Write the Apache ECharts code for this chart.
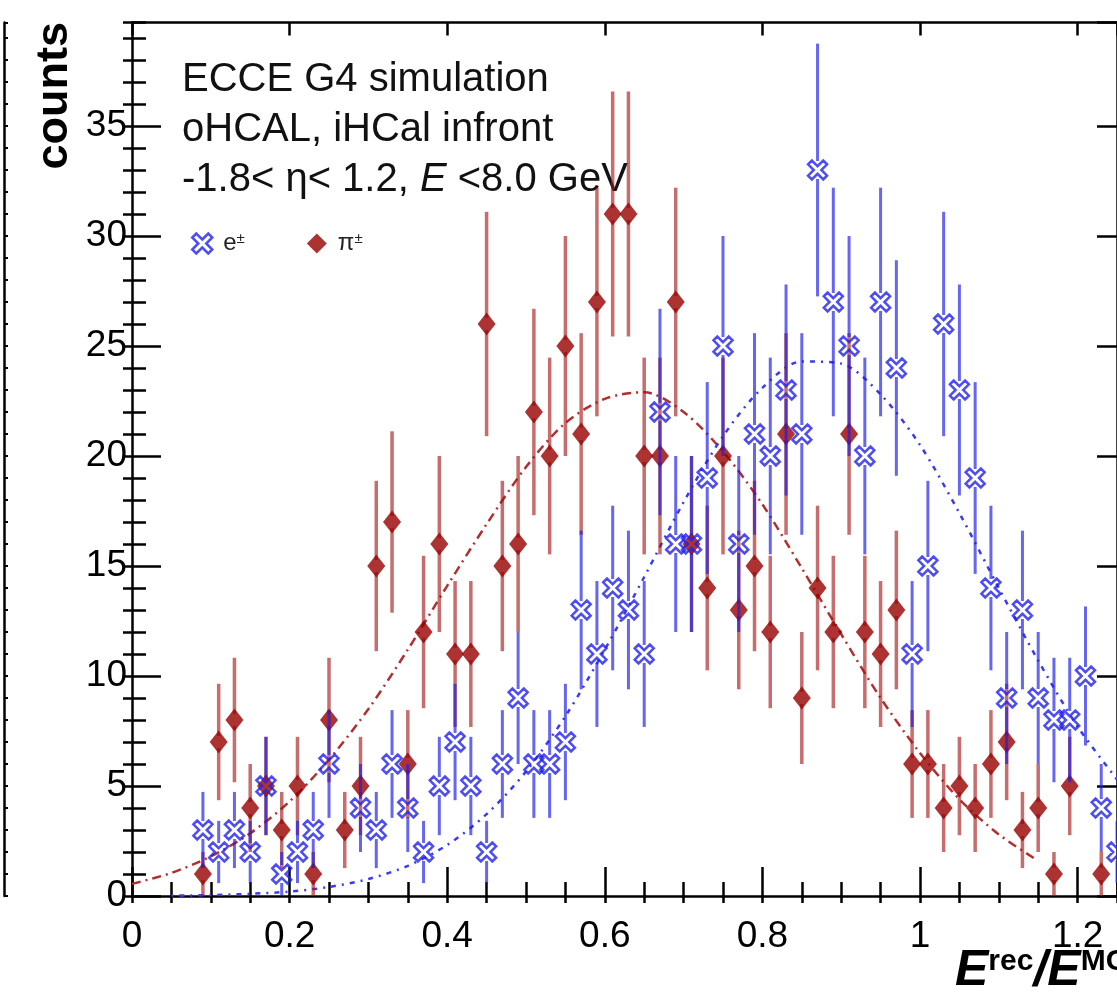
<!DOCTYPE html>
<html><head><meta charset="utf-8">
<script src="https://cdn.jsdelivr.net/npm/echarts/dist/echarts.min.js"></script>
<style>html,body{margin:0;padding:0;background:#fff}#c{width:1117px;height:1000px}</style>
</head><body><div id="c"></div>
<script>
// ---- data ----
const binsE   = [0.09,0.11,0.13,0.15,0.17,0.19,0.21,0.23,0.25,0.29,0.31,0.33,0.35,0.37,0.39,0.41,0.43,0.45,0.47,0.49,0.51,0.53,0.55,0.57,0.59,0.61,0.63,0.65,0.67,0.69,0.71,0.73,0.75,0.77,0.79,0.81,0.83,0.85,0.87,0.89,0.91,0.93,0.95,0.97,0.99,1.01,1.03,1.05,1.07,1.09,1.11,1.13,1.15,1.17,1.19,1.21,1.23,1.25];
const countsE = [3,2,3,2,5,1,2,3,6,4,3,6,4,2,5,7,5,2,6,9,6,6,7,13,11,14,13,11,22,16,16,19,25,16,21,20,23,21,33,27,25,20,27,24,11,15,26,23,19,14,9,13,9,8,8,10,4,2];
const binsPi   = [0.09,0.11,0.13,0.15,0.17,0.19,0.21,0.23,0.25,0.27,0.29,0.31,0.33,0.35,0.37,0.39,0.41,0.43,0.45,0.47,0.49,0.51,0.53,0.55,0.57,0.59,0.61,0.63,0.65,0.67,0.69,0.71,0.73,0.75,0.77,0.79,0.81,0.83,0.85,0.87,0.89,0.91,0.93,0.95,0.97,0.99,1.01,1.03,1.05,1.07,1.09,1.11,1.13,1.15,1.17,1.19,1.23];
const countsPi = [1,7,8,4,5,3,5,1,8,3,5,15,17,6,12,16,11,11,26,15,16,22,20,25,21,27,31,31,20,20,27,16,14,20,13,15,12,21,9,14,12,21,12,11,13,6,6,4,5,4,6,7,3,4,1,5,1];
// fit curves
const fitPiX = [0,0.05,0.1,0.15,0.2,0.25,0.3,0.35,0.4,0.45,0.5,0.55,0.6,0.65,0.7,0.75,0.8,0.85,0.9,0.95,1.0,1.05,1.1,1.15];
const fitPiY = [0.55,1.05,1.8,2.85,4.3,6.2,8.5,11.2,14.1,16.9,19.5,21.5,22.6,22.9,22.0,20.2,17.8,14.9,11.9,9.0,6.5,4.4,2.8,1.6];
const fitEX  = [0.05,0.1,0.15,0.2,0.25,0.3,0.35,0.4,0.45,0.5,0.55,0.6,0.65,0.7,0.75,0.8,0.85,0.9,0.95,1.0,1.05,1.1,1.15,1.2,1.25];
const fitEY  = [0.02,0.04,0.1,0.2,0.41,0.77,1.37,2.32,3.72,5.66,8.17,11.2,14.5,17.9,20.9,23.1,24.3,24.2,22.8,20.5,17.4,14.0,10.7,7.7,5.3];
const textLines = ['ECCE G4 simulation','oHCAL, iHCal infront','-1.8< \u03b7< 1.2, {it|E} <8.0 GeV'];
const legendNames = ['e\u00b1','\u03c0\u00b1'];

const FONT = 'Liberation Sans, Arial, Helvetica, sans-serif';
const X_MIN = 0, X_MAX = 1.25, Y_MIN = 0, Y_MAX = 39.7;
const CROSS = 'path://M0,-1 L1.5,-2.5 L2.5,-1.5 L1,0 L2.5,1.5 L1.5,2.5 L0,1 L-1.5,2.5 L-2.5,1.5 L-1,0 L-2.5,-1.5 L-1.5,-2.5 Z';
const RED = '#990000', BLUE = '#2020ee';

function errSeries(xs, ys, color, width, gap, z) {
  return {
    type: 'custom', xAxisIndex: 0, yAxisIndex: 0, z: z, silent: true,
    data: xs.map((x, i) => [x, ys[i]]),
    renderItem: function (params, api) {
      const x = api.value(0), v = api.value(1), e = Math.sqrt(v);
      const top = api.coord([x, v + e]), mid = api.coord([x, v]), bot = api.coord([x, Math.max(v - e, 0)]);
      const ch = [];
      if (mid[1] - gap > top[1]) ch.push({type: 'line', shape: {x1: top[0], y1: top[1], x2: mid[0], y2: mid[1] - gap}, style: {stroke: color, lineWidth: width}});
      if (bot[1] > mid[1] + gap) ch.push({type: 'line', shape: {x1: mid[0], y1: mid[1] + gap, x2: bot[0], y2: bot[1]}, style: {stroke: color, lineWidth: width}});
      return {type: 'group', children: ch};
    }
  };
}

function xAx(pos, interval, len, opts) {
  return Object.assign({
    type: 'value', gridIndex: 0, position: pos, min: X_MIN, max: X_MAX, interval: interval,
    axisLine: {show: false}, splitLine: {show: false}, axisLabel: {show: false},
    axisTick: {show: true, inside: true, length: len, lineStyle: {color: '#000', width: 2.5}}
  }, opts || {});
}
function yAx(pos, interval, len, opts) {
  return Object.assign({
    type: 'value', gridIndex: 0, position: pos, min: Y_MIN, max: Y_MAX, interval: interval,
    axisLine: {show: false}, splitLine: {show: false}, axisLabel: {show: false},
    axisTick: {show: true, inside: true, length: len, lineStyle: {color: '#000', width: 2.5}}
  }, opts || {});
}

const chart = echarts.init(document.getElementById('c'), null, {renderer: 'canvas'});
chart.setOption({
  animation: false,
  backgroundColor: '#fff',
  grid: [
    {left: 132, top: 22.6, width: 987.5, height: 873.4, containLabel: false},
    {left: -96, top: 22.6, width: 100, height: 873.4, containLabel: false}
  ],
  xAxis: [
    xAx('bottom', 0.2, 29, {
      axisLine: {show: true, onZero: false, lineStyle: {color: '#000', width: 2.5}},
      axisLabel: {show: true, fontSize: 37, color: '#000', fontFamily: FONT, margin: 22, showMaxLabel: false}
    }),
    xAx('bottom', 0.05, 14),
    xAx('top', 0.2, 13, {axisLine: {show: true, onZero: false, lineStyle: {color: '#000', width: 2.5}}}),
    xAx('top', 0.05, 7),
    {type: 'value', gridIndex: 1, show: false, min: 0, max: 1}
  ],
  yAxis: [
    yAx('left', 5, 29, {
      axisLine: {show: true, onZero: false, lineStyle: {color: '#000', width: 2.5}},
      axisLabel: {show: true, fontSize: 37, color: '#000', fontFamily: FONT, margin: 5, showMaxLabel: false}
    }),
    yAx('left', 1, 14),
    yAx('right', 5, 20, {axisLine: {show: true, onZero: false, lineStyle: {color: '#000', width: 2.5}}}),
    yAx('right', 1, 9),
    {type: 'value', gridIndex: 1, position: 'right', min: Y_MIN, max: Y_MAX, interval: 1,
     axisLine: {show: true, lineStyle: {color: '#000', width: 2.5}}, splitLine: {show: false}, axisLabel: {show: false},
     axisTick: {show: true, inside: false, length: 4, lineStyle: {color: '#000', width: 2}}}
  ],
  legend: {
    left: 186, top: 226, itemWidth: 20, itemHeight: 20, itemGap: 62, selectedMode: false,
    data: [
      {name: legendNames[0], icon: CROSS, itemStyle: {color: 'rgba(0,0,0,0)', borderColor: BLUE, borderWidth: 2.5}},
      {name: legendNames[1], icon: 'diamond', itemStyle: {color: RED, borderWidth: 0}}
    ],
    formatter: function (n) { return n.charAt(0) + '{sup|' + n.charAt(1) + '}'; },
    textStyle: {fontSize: 24, color: '#222', fontFamily: FONT, padding: [0, 0, 0, 6],
      rich: {sup: {fontSize: 15, color: '#222', fontFamily: FONT, padding: [0, 0, 10, 0]}}}
  },
  series: [
    {type: 'line', name: 'fitPi', data: fitPiX.map((x, i) => [x, fitPiY[i]]), smooth: 0.3, showSymbol: false, z: 1,
     lineStyle: {color: '#b03030', width: 2.5, type: [9, 5, 2, 5]}, silent: true},
    {type: 'line', name: 'fitE', data: fitEX.map((x, i) => [x, fitEY[i]]), smooth: 0.3, showSymbol: false, z: 1,
     lineStyle: {color: '#3a3aee', width: 2.5, type: [2, 6, 5, 6]}, silent: true},
    errSeries(binsPi, countsPi, 'rgba(165,20,20,0.62)', 3.5, 6, 2),
    {type: 'scatter', name: legendNames[1], data: binsPi.map((x, i) => [x, countsPi[i]]), symbol: 'diamond', symbolSize: [18, 23], z: 3,
     itemStyle: {color: RED}},
    errSeries(binsE, countsE, 'rgba(30,30,230,0.68)', 3, 9, 4),
    {type: 'scatter', name: legendNames[0], data: binsE.map((x, i) => [x, countsE[i]]), symbol: CROSS, symbolSize: 19, z: 5,
     itemStyle: {color: 'rgba(0,0,0,0)', borderColor: BLUE, borderWidth: 2.5}}
  ],
  graphic: [
    {type: 'text', x: 182, y: 80, style: {text: textLines[0], font: '40px ' + FONT, fill: '#111', textVerticalAlign: 'middle'}},
    {type: 'text', x: 182, y: 130, style: {text: textLines[1], font: '40px ' + FONT, fill: '#111', textVerticalAlign: 'middle'}},
    {type: 'text', x: 182, y: 180, style: {text: textLines[2], font: '40px ' + FONT, fill: '#111', textVerticalAlign: 'middle',
      rich: {it: {fontStyle: 'italic', fontSize: 40, fontFamily: FONT, fill: '#111'}}}},
    {type: 'text', x: 55, y: 22, rotation: Math.PI / 2, style: {text: 'counts', font: 'bold 45px ' + FONT, fill: '#000', textAlign: 'right', textVerticalAlign: 'middle'}},
    {type: 'text', x: 955, y: 996, style: {text: '{e|E}{s|rec}{e|/E}{s|MC}', textVerticalAlign: 'bottom',
      rich: {e: {fontSize: 50, fontWeight: 'bold', fontStyle: 'italic', fontFamily: FONT, fill: '#000'},
             s: {fontSize: 30, fontWeight: 'bold', fontFamily: FONT, fill: '#000', padding: [0, 0, 19, 0]}}}}
  ]
});
</script></body></html>
